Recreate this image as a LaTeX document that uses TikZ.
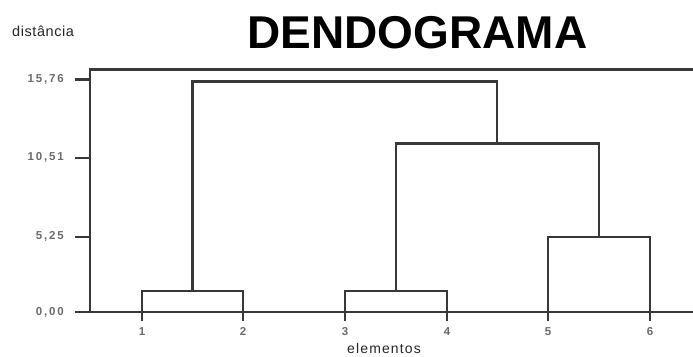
\documentclass[tikz,border=0pt]{standalone}
\usepackage{fontspec}
\setmainfont{Liberation Sans}
\newfontfamily\tickfont[LetterSpace=16]{Liberation Sans}
\newfontfamily\labelfont[LetterSpace=4]{Liberation Sans}
\newfontfamily\axisfont[LetterSpace=8]{Liberation Sans}
\begin{document}
\begin{tikzpicture}[x=1pt,y=-1pt,
  treeline/.style={draw=black!78, line width=2.4pt, line join=miter},
  axisline/.style={draw=black!78, line width=2.4pt},
  ticklabel/.style={inner sep=0pt, text=black!58, font=\tickfont\fontsize{11.5}{12}\selectfont\bfseries},
  leaflabel/.style={inner sep=0pt, text=black!58, font=\tickfont\fontsize{11.5}{12}\selectfont\bfseries},
  ]
  \useasboundingbox[fill=white] (0,0) rectangle (693,356);

  % titles
  \node[inner sep=0pt, anchor=base] (title) at (417.5,48)
    {\fontsize{46}{46}\selectfont\bfseries DENDOGRAMA};
  \node[inner sep=0pt, anchor=base west, text=black!85] (ylab) at (12,36)
    {\labelfont\fontsize{14.5}{15}\selectfont distância};
  \node[inner sep=0pt, anchor=base, text=black!85] (xlab) at (384,353)
    {\axisfont\fontsize{14}{15}\selectfont elementos};

  % frame: y-axis, top line, base axis
  \coordinate (ytop) at (90,69.5);
  \coordinate (ybot) at (90,312);
  \coordinate (ftr) at (693,69.5);
  \coordinate (axl) at (75,312);
  \coordinate (axr) at (693,312);
  \draw[axisline] (ftr) -- (ytop) -- (ybot);
  \draw[axisline] (axl) -- (axr);

  % y ticks and their values
  \foreach \name/\yy/\txt in {t0/312/{0,00}, t1/236.7/{5,25}, t2/157.7/{10,51}, t3/79.5/{15,76}} {
    \coordinate (\name a) at (75,\yy);
    \coordinate (\name b) at (90,\yy);
    \draw[axisline] (\name a) -- (\name b);
    \node[ticklabel, anchor=east] (\name l) at (64,\yy) {\txt};
  }

  % leaves
  \foreach \i/\xx in {1/142, 2/243, 3/345, 4/447, 5/548, 6/650} {
    \coordinate (l\i) at (\xx,312);
    \coordinate (l\i d) at (\xx,321);
    \draw[axisline] (l\i) -- (l\i d);
    \node[leaflabel] (n\i) at (\xx,331.5) {\i};
  }

  % merge points
  \coordinate (m12) at (192.5,291);
  \coordinate (m34) at (396,291);
  \coordinate (m56) at (599,237);
  \coordinate (m3456) at (497,143.5);
  \coordinate (root) at (344.5,81.5);

  % dendrogram links
  \draw[treeline] (l1) |- (m12) -| (l2);
  \draw[treeline] (l3) |- (m34) -| (l4);
  \draw[treeline] (l5) |- (m56) -| (l6);
  \draw[treeline] (m34) |- (m3456) -| (m56);
  \draw[treeline] (m12) |- (root) -| (m3456);
\end{tikzpicture}
\end{document}
